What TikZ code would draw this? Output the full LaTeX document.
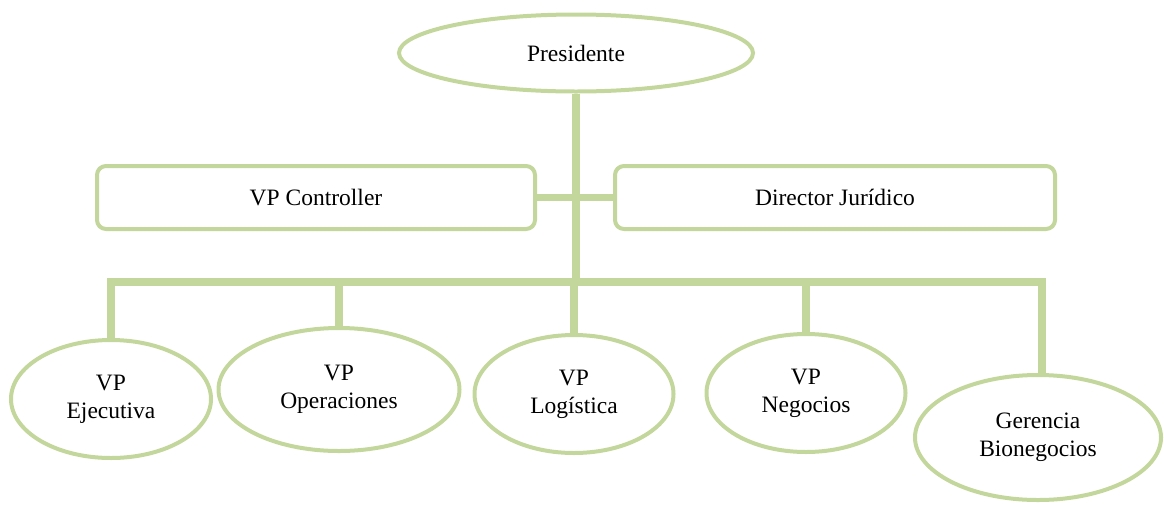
\documentclass[tikz,border=0pt]{standalone}
\usepackage{fontspec}
\setmainfont{Liberation Serif}
\usetikzlibrary{shapes.geometric}
\definecolor{olivelight}{HTML}{C3D69B}
\tikzset{
    unit/.style={ellipse, draw=olivelight, line width=4pt, align=center,
        inner sep=0pt, font=\fontsize{23.5pt}{28pt}\selectfont},
    staff/.style={rectangle, rounded corners=9pt, draw=olivelight,
        line width=4pt, inner sep=0pt, font=\fontsize{23.5pt}{28pt}\selectfont},
    link/.style={draw=olivelight, line width=8pt},
}
\begin{document}
\begin{tikzpicture}[x=1pt,y=-1pt]
    \useasboundingbox (0,0) rectangle (1164,504);

    \def\busy{282}

    % president
    \node[unit, minimum width=354pt, minimum height=77pt] (pres) at (576,53) {Presidente};

    % staff boxes
    \node[staff, minimum width=438pt, minimum height=63pt] (ctrl) at (316,197.5) {VP Controller};
    \node[staff, minimum width=440pt, minimum height=63pt] (jur) at (835,197.5) {Director Jurídico};

    % vice presidencies
    \node[unit, minimum width=200pt, minimum height=118pt] (ejec) at (111,399) {VP\\Ejecutiva};
    \node[unit, minimum width=241pt, minimum height=123pt] (oper) at (339,389.5) {VP\\Operaciones};
    \node[unit, minimum width=199pt, minimum height=118pt] (logi) at (574,394) {VP\\Logística};
    \node[unit, minimum width=199pt, minimum height=118pt] (nego) at (806,393) {VP\\Negocios};
    \node[unit, minimum width=246pt, minimum height=125pt] (bion) at (1038,437.5) {Gerencia\\Bionegocios};

    \coordinate (busL) at (111,\busy);
    \coordinate (busR) at (1042,\busy);

    % trunk and staff line
    \draw[link] (pres.south) -- (pres.south |- busL);
    \draw[link, line width=7pt] (ctrl.east) -- (jur.west);

    % bus and drops
    \draw[link] (busL |- ejec.north) -- (busL) -- (busR) -- (busR |- bion.north);
    \draw[link] (oper.north |- busL) -- (oper.north);
    \draw[link] (logi.north |- busL) -- (logi.north);
    \draw[link] (nego.north |- busL) -- (nego.north);
\end{tikzpicture}
\end{document}
